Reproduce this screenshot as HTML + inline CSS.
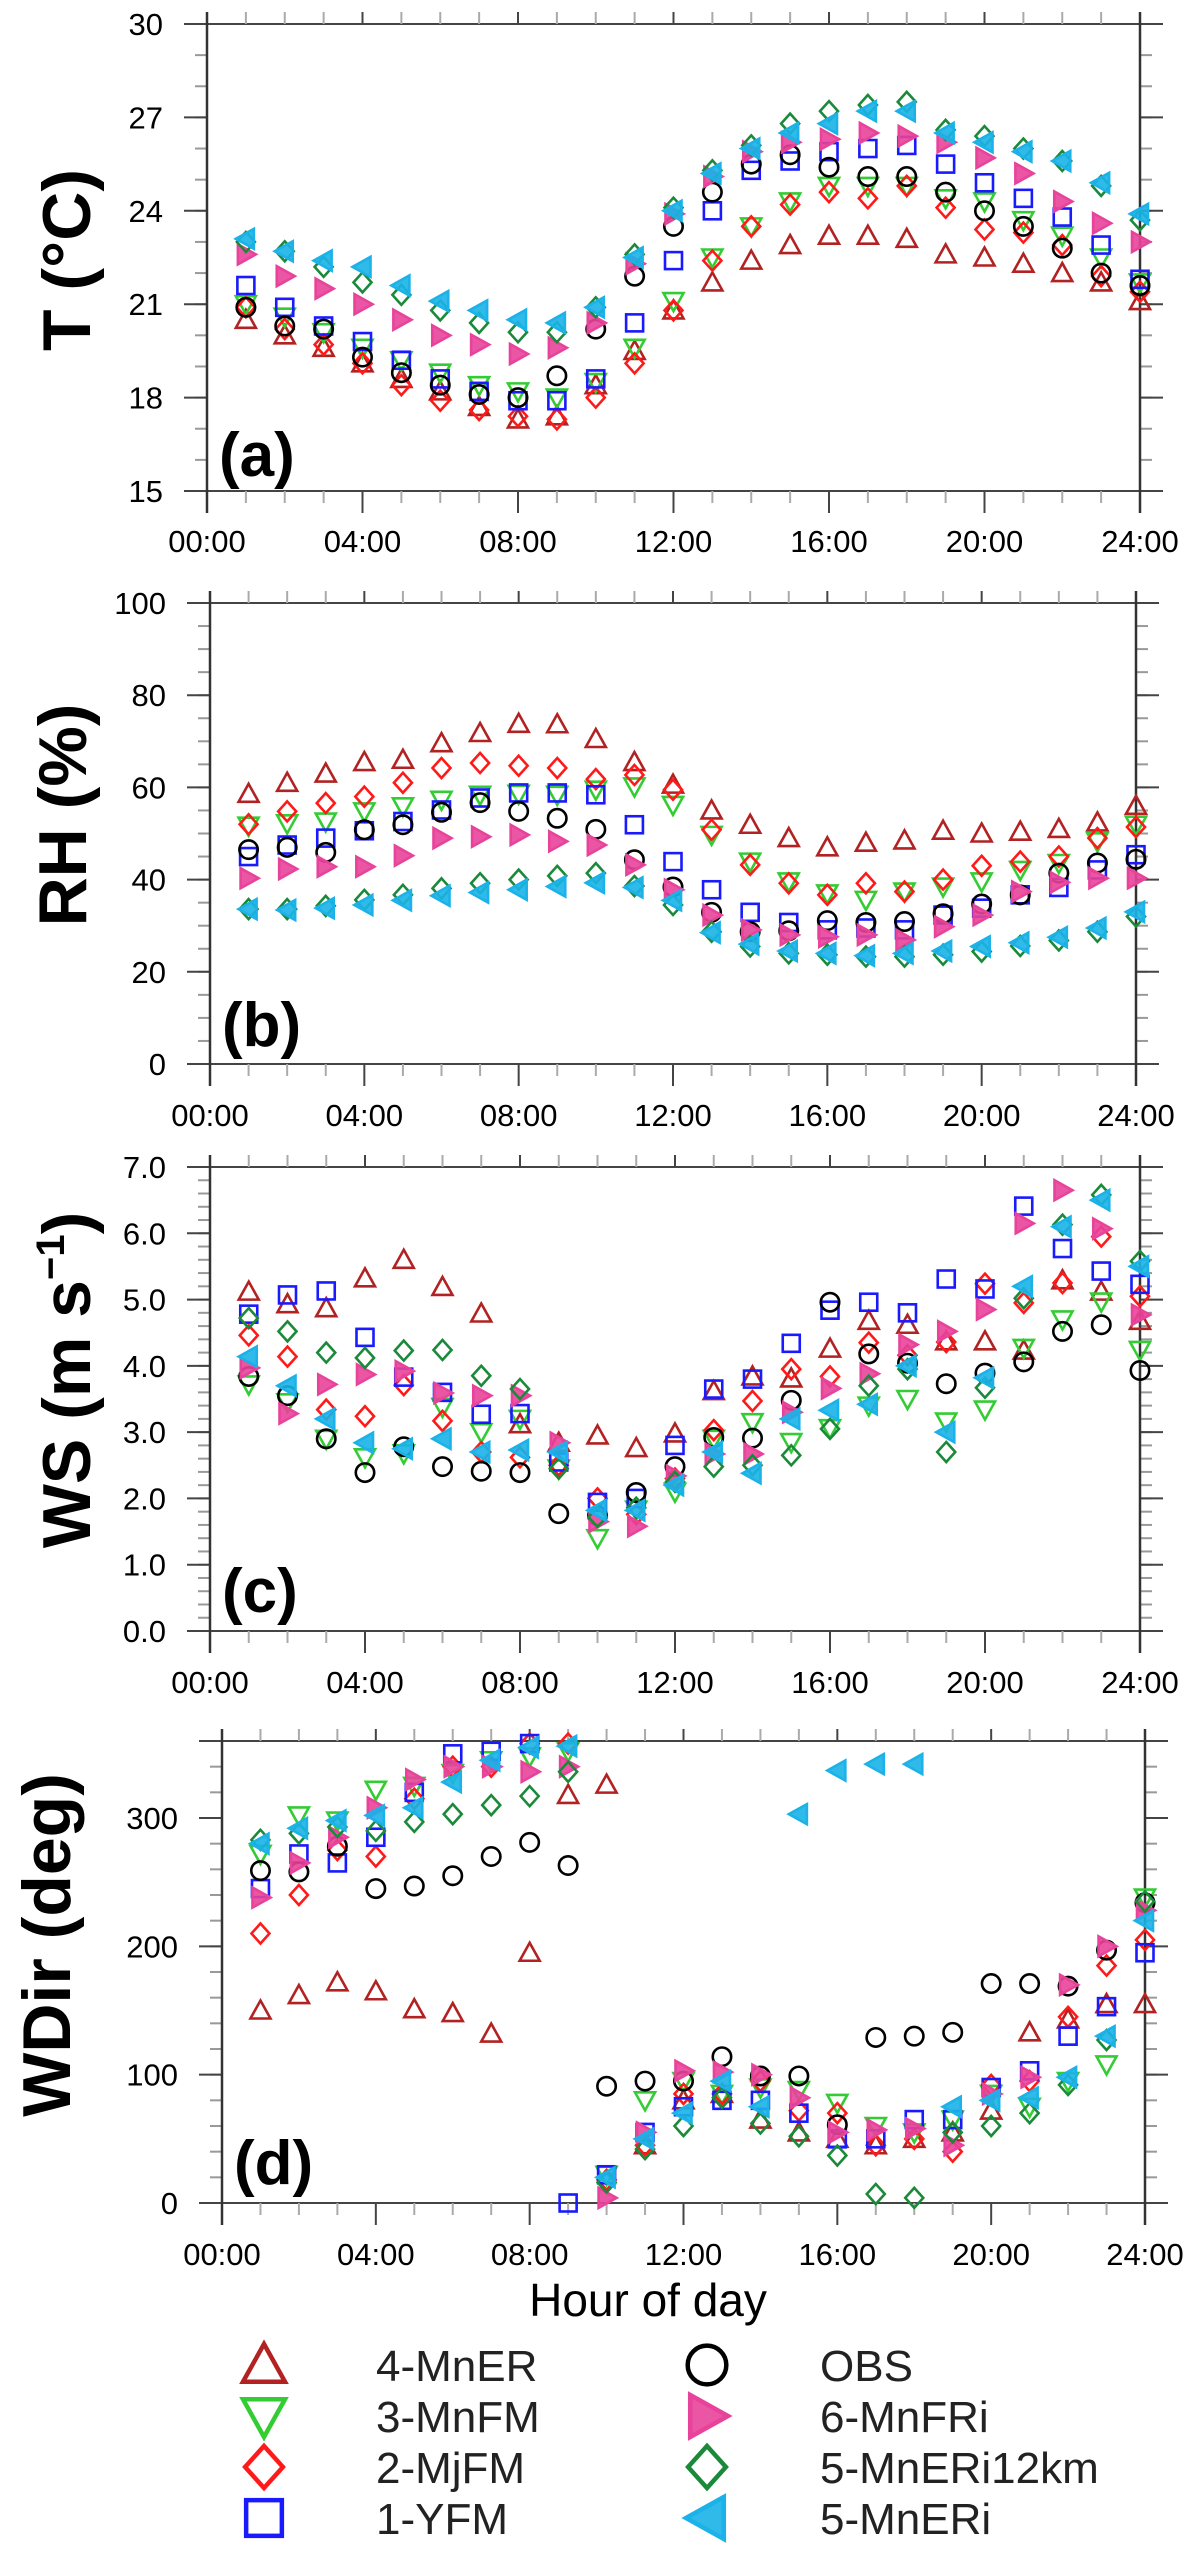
<!DOCTYPE html>
<html><head><meta charset="utf-8">
<style>
html,body{margin:0;padding:0;background:#fff;}
svg{display:block;font-family:"Liberation Sans",Arial,sans-serif;}
</style></head>
<body>
<svg id="chart" xmlns="http://www.w3.org/2000/svg" width="1201" height="2561" viewBox="0 0 1201 2561">
<g id="panels"></g>
<text x="648" y="2316" font-size="46" text-anchor="middle">Hour of day</text>
<g id="legend"></g>
</svg>
<script>
const hours = [1,2,3,4,5,6,7,8,9,10,11,12,13,14,15,16,17,18,19,20,21,22,23,24];
const xTickLabels = ["00:00","04:00","08:00","12:00","16:00","20:00","24:00"];
const seriesNames = ["4-MnER","3-MnFM","2-MjFM","1-YFM","OBS","6-MnFRi","5-MnERi12km","5-MnERi"];

// Panel (a) temperature
const tMnER = [20.5,20.0,19.6,19.1,18.6,18.2,17.7,17.3,17.4,18.4,19.5,20.8,21.7,22.4,22.9,23.2,23.2,23.1,22.6,22.5,22.3,22.0,21.7,21.1];
const tMnFM = [21.0,20.6,20.1,19.6,19.2,18.8,18.4,18.2,18.0,18.5,19.6,21.1,22.5,23.5,24.3,24.8,24.8,24.8,24.4,24.3,23.7,23.2,22.5,21.7];
const tMjFM = [20.9,20.2,19.7,19.1,18.4,17.9,17.6,17.4,17.3,18.0,19.1,20.8,22.4,23.5,24.2,24.6,24.4,24.8,24.1,23.4,23.3,22.9,21.9,21.4];
const tYFM = [21.6,20.9,20.3,19.8,19.2,18.6,18.2,17.9,17.9,18.6,20.4,22.4,24.0,25.3,25.6,25.9,26.0,26.1,25.5,24.9,24.4,23.8,22.9,21.8];
const tOBS = [20.9,20.3,20.2,19.3,18.8,18.4,18.1,18.0,18.7,20.2,21.9,23.5,24.6,25.5,25.8,25.4,25.1,25.1,24.6,24.0,23.5,22.8,22.0,21.6];
const tMnFRi = [22.6,21.9,21.5,21.0,20.5,20.0,19.7,19.4,19.6,20.4,22.3,23.9,25.1,25.9,26.2,26.3,26.5,26.4,26.2,25.7,25.2,24.3,23.6,23.0];
const tMnERi12 = [23.0,22.7,22.2,21.7,21.3,20.8,20.4,20.1,20.1,20.9,22.6,24.1,25.3,26.1,26.8,27.2,27.4,27.5,26.6,26.4,26.0,25.6,24.8,23.7];
const tMnERi = [23.1,22.7,22.4,22.2,21.6,21.1,20.8,20.5,20.4,20.9,22.5,24.0,25.2,26.0,26.5,26.8,27.2,27.2,26.5,26.2,25.9,25.6,24.9,23.9];

// Panel (b) relative humidity
const rhMnER = [58.6,61,63,65.5,66,69.6,71.8,73.8,73.7,70.5,65.5,60.6,55,51.9,49,47,48,48.5,50.6,50,50.4,51,52.4,56];
const rhMnFM = [51.7,52.2,52.6,54.8,55.9,57.3,58.4,58.6,58.4,59.5,60.2,56.2,49.7,43.9,39.6,37,35.6,37.4,38.5,39.6,42.1,43.6,48.3,51.9];
const rhMjFM = [52,54.8,56.6,58,61,64.2,65.3,64.7,64.2,61.8,62.7,59.5,50.8,43.2,39.2,36.7,39.2,37.4,40,43,43.9,45,49,51.4];
const rhYFM = [45,47.5,49,50.6,52.6,55.1,57.7,58.8,58.8,58.4,51.9,43.9,37.8,32.9,30.7,29.1,29.5,29.1,32.3,33.8,36.7,38.3,42.1,45.4];
const rhOBS = [46.5,47,45.9,50.8,51.9,54.6,56.7,54.8,53.3,50.9,44.3,38.4,32.9,28.7,28.9,31.1,30.7,30.9,32.6,34.7,36.7,41.4,43.6,44.4];
const rhMnFRi = [40.3,42.3,42.8,42.8,45.2,49,49.3,49.7,48.3,47.5,43.2,37.8,32.3,29.1,28,27.6,28,26.9,29.8,32.3,37.4,39.4,40.3,40.3];
const rhMnERi12 = [33.6,33.6,34.3,35.6,36.7,38.1,39.2,40,40.8,41.4,38.6,34.5,28.7,25.5,24,23.7,23.3,23.3,23.7,24.4,25.6,26.8,28.7,32];
const rhMnERi = [33.6,33.4,33.8,34.5,35.5,36.5,37.2,37.8,38.5,39.3,38.3,35.5,28.5,26,24.5,24,23.5,24,24.5,25.5,26.3,27.5,29.5,33];

// Panel (c) wind speed
const wsMnER = [5.12,4.93,4.87,5.32,5.6,5.19,4.79,3.12,2.84,2.95,2.76,2.98,3.62,3.84,3.81,4.26,4.68,4.62,4.37,4.37,4.23,5.29,5.12,4.68];
const wsMnFM = [3.72,3.45,2.9,2.62,2.68,3.38,3.0,3.2,2.45,1.4,1.83,2.1,2.9,3.15,2.85,3.06,3.4,3.5,3.16,3.34,4.27,4.7,4.97,4.24];
const wsMjFM = [4.46,4.14,3.34,3.24,3.71,3.17,2.7,2.62,2.5,2.0,1.76,2.3,3.03,3.47,3.95,3.84,4.35,4.16,4.36,5.24,4.95,5.25,5.95,5.05];
const wsYFM = [4.78,5.07,5.13,4.43,3.83,3.6,3.27,3.28,2.55,1.94,2.0,2.8,3.65,3.8,4.34,4.84,4.96,4.8,5.31,5.16,6.41,5.77,5.43,5.23];
const wsOBS = [3.84,3.55,2.9,2.39,2.78,2.48,2.41,2.39,1.77,1.74,2.09,2.48,2.92,2.91,3.48,4.96,4.18,4.04,3.73,3.89,4.06,4.52,4.62,3.93];
const wsMnFRi = [3.97,3.28,3.72,3.87,3.92,3.59,3.55,3.55,2.84,1.65,1.58,2.34,2.67,2.67,3.3,3.66,3.88,4.32,4.52,4.85,6.15,6.65,6.07,4.77];
const wsMnERi12 = [4.72,4.52,4.2,4.12,4.23,4.24,3.85,3.65,2.45,1.72,1.86,2.25,2.48,2.5,2.65,3.05,3.7,3.95,2.7,3.67,5.02,6.13,6.58,5.58];
const wsMnERi = [4.14,3.7,3.2,2.84,2.75,2.9,2.7,2.73,2.7,1.82,1.82,2.2,2.7,2.38,3.2,3.33,3.42,4.0,3.0,3.82,5.2,6.1,6.5,5.5];

// Panel (d) wind direction
const wdMnER = [150,162,172,165,151,148,132,195,318,326,45,80,85,65,55,50,45,50,55,72,133,143,155,155];
const wdMnFM = [272,302,298,322,325,335,345,348,352,22,80,95,85,90,88,78,60,55,65,85,75,95,108,238];
const wdMjFM = [210,240,275,270,315,340,340,358,358,18,45,85,85,95,72,70,45,50,40,92,95,145,185,205];
const wdYFM = [245,272,265,285,320,350,352,358,0,22,55,75,80,80,70,50,50,65,65,90,103,130,153,195];
const wdOBS = [259,258,278,245,247,255,270,281,263,91,95,95,114,99,99,61,129,130,133,171,171,169,197,234];
const wdMnFRi = [238,265,285,308,330,340,340,336,340,4,55,103,102,100,82,55,57,58,45,85,98,170,200,228];
const wdMnERi12 = [283,288,293,290,297,303,310,317,336,16,42,60,82,62,52,37,7,4,55,60,70,92,127,235];
const wdMnERi = [280,292,298,302,308,328,345,355,356,20,50,70,95,75,303,337,342,342,75,80,82,98,130,220];

const NS = "http://www.w3.org/2000/svg";
const styles = {
 "4-MnER":{shape:"tri-up",color:"#b22222",fill:false},
 "3-MnFM":{shape:"tri-down",color:"#33cc33",fill:false},
 "2-MjFM":{shape:"diamond",color:"#ff1a1a",fill:false},
 "1-YFM":{shape:"square",color:"#1a1aff",fill:false},
 "OBS":{shape:"circle",color:"#000000",fill:false},
 "6-MnFRi":{shape:"tri-right",color:"#e8439a",fill:true},
 "5-MnERi12km":{shape:"diamond",color:"#1a8a3a",fill:false},
 "5-MnERi":{shape:"tri-left",color:"#1ab2e8",fill:true}
};
function el(tag, attrs, parent){const e=document.createElementNS(NS,tag);for(const k in attrs)e.setAttribute(k,attrs[k]);if(parent)parent.appendChild(e);return e;}
function marker(parent, name, cx, cy, s, sw){
  const st=styles[name];let e;const r=s/2;
  const common={stroke:st.color,"stroke-width":sw,fill:st.fill?st.color:"none","fill-opacity":st.fill?0.9:1};
  if(st.shape==="circle"){e=el("circle",Object.assign({cx:cx,cy:cy,r:r*0.92},common),parent);}
  else if(st.shape==="square"){e=el("rect",Object.assign({x:cx-r*0.85,y:cy-r*0.85,width:r*1.7,height:r*1.7},common),parent);}
  else{let p;
    if(st.shape==="tri-up")p=[[cx,cy-r],[cx+r,cy+r*0.8],[cx-r,cy+r*0.8]];
    else if(st.shape==="tri-down")p=[[cx,cy+r],[cx+r,cy-r*0.8],[cx-r,cy-r*0.8]];
    else if(st.shape==="tri-right")p=[[cx+r,cy],[cx-r*0.8,cy-r],[cx-r*0.8,cy+r]];
    else if(st.shape==="tri-left")p=[[cx-r,cy],[cx+r*0.8,cy-r],[cx+r*0.8,cy+r]];
    else p=[[cx,cy-r],[cx+r*0.9,cy],[cx,cy+r],[cx-r*0.9,cy]];
    e=el("polygon",Object.assign({points:p.map(q=>q.join(",")).join(" ")},common),parent);}
  return e;
}
const panels=[
 {id:"a",x0:207,x24:1140,yT:24,yB:491,vmin:15,vmax:30,major:[15,18,21,24,27,30],minorStep:1,fmt:v=>String(v),lblY:552,
  title:"T (°C)",tx:66,ty:260,series:[tMnER,tMnFM,tMjFM,tYFM,tOBS,tMnFRi,tMnERi12,tMnERi],letterY:476},
 {id:"b",x0:210,x24:1136,yT:603,yB:1064,vmin:0,vmax:100,major:[0,20,40,60,80,100],minorStep:5,fmt:v=>String(v),lblY:1126,
  title:"RH (%)",tx:62,ty:815,series:[rhMnER,rhMnFM,rhMjFM,rhYFM,rhOBS,rhMnFRi,rhMnERi12,rhMnERi],letterY:1046},
 {id:"c",x0:210,x24:1140,yT:1167,yB:1631,vmin:0,vmax:7,major:[0,1,2,3,4,5,6,7],minorStep:0.2,fmt:v=>v.toFixed(1),lblY:1693,
  title:"WS",tx:66,ty:1380,series:[wsMnER,wsMnFM,wsMjFM,wsYFM,wsOBS,wsMnFRi,wsMnERi12,wsMnERi],letterY:1612},
 {id:"d",x0:222,x24:1145,yT:1741,yB:2203,vmin:0,vmax:360,major:[0,100,200,300],minorStep:20,fmt:v=>String(v),lblY:2265,
  title:"WDir (deg)",tx:46,ty:1945,series:[wdMnER,wdMnFM,wdMjFM,wdYFM,wdOBS,wdMnFRi,wdMnERi12,wdMnERi],letterY:2184}
];
const root=document.getElementById("panels");
panels.forEach(P=>{
  const g=el("g",{},root);
  
  
  const xs=h=>P.x0+(P.x24-P.x0)*h/24;
  const ys=v=>P.yB-(P.yB-P.yT)*(v-P.vmin)/(P.vmax-P.vmin);
  const ax=el("g",{},g);
  
  
  // minor y ticks
  for(let v=P.vmin;v<=P.vmax+1e-6;v+=P.minorStep){
    const y=ys(v);
    el("line",{x1:P.x0-12,x2:P.x0,y1:y,y2:y,stroke:"#999","stroke-width":2},ax);
    el("line",{x1:P.x24,x2:P.x24+12,y1:y,y2:y,stroke:"#999","stroke-width":2},ax);
  }
  P.major.forEach(v=>{const y=ys(v);
    el("line",{x1:P.x0-23,x2:P.x0,y1:y,y2:y,stroke:"#444","stroke-width":2},ax);
    el("line",{x1:P.x24,x2:P.x24+23,y1:y,y2:y,stroke:"#444","stroke-width":2},ax);
    const t=el("text",{x:P.x0-44,y:y+11,"font-size":31,"text-anchor":"end",fill:"#000"},ax);t.textContent=P.fmt(v);
    
    
  });
  // top line at vmax
  el("line",{x1:P.x0-23,x2:P.x24+23,y1:P.yT,y2:P.yT,stroke:"#444","stroke-width":2},ax);
  el("line",{x1:P.x0-23,x2:P.x24+23,y1:P.yB,y2:P.yB,stroke:"#444","stroke-width":2},ax);
  for(let h=0;h<=24;h++){const x=xs(h);const maj=h%4===0;
    el("line",{x1:x,x2:x,y1:P.yT-12,y2:P.yT,stroke:maj?"#444":"#aaa","stroke-width":2},ax);
    el("line",{x1:x,x2:x,y1:P.yB,y2:P.yB+(maj?22:12),stroke:maj?"#444":"#aaa","stroke-width":2},ax);
  }
  el("line",{x1:P.x0,x2:P.x0,y1:P.yT-12,y2:P.yB+22,stroke:"#333","stroke-width":2.5},ax);
  el("line",{x1:P.x24,x2:P.x24,y1:P.yT-12,y2:P.yB+22,stroke:"#333","stroke-width":2.5},ax);
  xTickLabels.forEach((s,i)=>{const t=el("text",{x:xs(i*4),y:P.lblY,"font-size":31,"text-anchor":"middle",fill:"#000"},ax);t.textContent=s;
    
    });
  // title
  const tt=el("text",{x:P.tx,y:P.ty,"font-size":68,"font-weight":"bold","text-anchor":"middle",transform:`rotate(-90 ${P.tx} ${P.ty}) translate(0 24)`},g);
  
  
  if(P.id==="c"){tt.textContent="WS (m s";const sp=document.createElementNS(NS,"tspan");sp.setAttribute("font-size","40");sp.setAttribute("dy","-26");sp.textContent="−1";tt.appendChild(sp);const sp2=document.createElementNS(NS,"tspan");sp2.setAttribute("dy","26");sp2.textContent=")";tt.appendChild(sp2);}
  else tt.textContent=P.title;
  const lt=el("text",{x:P.x0+12,y:P.letterY,"font-size":62,"font-weight":"bold"},g);lt.textContent="("+P.id+")";
  
  
  // series
  P.series.forEach((arr,si)=>{
    const sg=el("g",{},g);
    
    
    arr.forEach((v,i)=>{const m=marker(sg,seriesNames[si],xs(hours[i]),ys(v),20,2.6);
      
      });
  });
});
// legend
const lg=document.getElementById("legend");
const legendCols=[["4-MnER","3-MnFM","2-MjFM","1-YFM"],["OBS","6-MnFRi","5-MnERi12km","5-MnERi"]];
const rowY=[2365,2416,2467,2518];
legendCols.forEach((col,ci)=>{col.forEach((n,ri)=>{
  const eg=el("g",{},lg);
  
  
  marker(eg,n,ci?707:264,rowY[ri],42,4.5);
  const t=el("text",{x:ci?820:376,y:rowY[ri]+16,"font-size":44,fill:"#222"},eg);t.textContent=n;
});});
</script>
</body></html>
